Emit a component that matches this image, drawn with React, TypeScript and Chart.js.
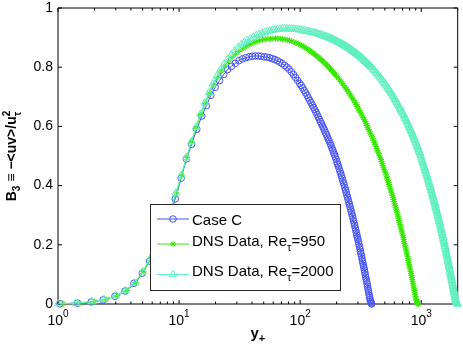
import { useEffect, useRef } from 'react';
import { Chart, registerables } from 'chart.js';

Chart.register(...registerables);

// ---------------- data: [y+, B3] ----------------
const caseC: [number, number][] = [
  [1.04, .001], [1.45, .003], [1.88, .007], [2.36, .014], [2.95, .026], [3.58, .044], [4.24, .07], [4.96, .104], [5.7, .145], [6.5, .19],
  [7.4, .24], [8.3, .295], [9.3, .355], [10.4, .425], [11.5, .49], [12.7, .54], [14.0, .59], [15.4, .635], [16.8, .67], [18.3, .705],
  [19.9, .732], [21.6, .755], [23.4, .776], [25.2, .792], [27.1, .803], [29.1, .813], [31.2, .822], [33.3, .828], [35.5, .832], [37.8, .835],
  [40.2, .837], [42.6, .838], [45.1, .838], [47.7, .837], [50.4, .835], [53.1, .834], [55.9, .832], [58.8, .829], [61.8, .826], [64.8, .822],
  [67.9, .817], [71.1, .812], [74.4, .806], [77.7, .8], [81.1, .793], [84.6, .784], [88.1, .775], [91.7, .765], [95.4, .755], [99.1, .745],
  [102, .738], [105, .730], [108, .721], [111, .713], [114, .705], [117, .696], [120, .688], [123, .680], [126, .672], [129, .664],
  [132, .656], [135, .648], [138, .640], [141, .632], [144, .624], [147, .616], [150, .609], [153, .601], [156, .594], [159, .587],
  [162, .579], [165, .572], [168, .564], [171, .557], [174, .550], [177, .542], [180, .535], [183, .527], [186, .520], [189, .512],
  [192, .505], [195, .497], [198, .489], [201, .481], [204, .473], [207, .465], [210, .457], [213, .449], [216, .441], [219, .433],
  [222, .425], [225, .417], [228, .409], [231, .401], [234, .393], [237, .385], [240, .377], [243, .369], [246, .361], [249, .353],
  [252, .345], [255, .337], [258, .329], [261, .321], [264, .313], [267, .305], [270, .297], [273, .289], [276, .281], [279, .273],
  [282, .265], [285, .257], [288, .249], [291, .241], [294, .233], [297, .225], [300, .218], [303, .210], [306, .202], [309, .194],
  [312, .186], [315, .178], [318, .170], [321, .162], [324, .154], [327, .146], [330, .138], [333, .130], [336, .123], [339, .115],
  [342, .107], [345, .099], [348, .091], [351, .084], [354, .076], [357, .068], [360, .060], [363, .052], [366, .045], [369, .037],
  [372, .029], [375, .022], [378, .015], [381, .010], [384, .005], [387, .002], [390, 0],
];

const dns950: [number, number][] = [
  [1.1, .001], [1.5, .003], [2.0, .008], [2.5, .016], [3.1, .029], [3.7, .046], [4.4, .072], [5.1, .11], [5.9, .155], [6.7, .205],
  [7.6, .26], [8.5, .315], [9.5, .375], [10.5, .435], [11.6, .495], [12.7, .548], [13.9, .598], [15.1, .64], [16.4, .678], [17.8, .712],
  [19.2, .74], [20.7, .765], [22.3, .787], [23.9, .805], [25.6, .82], [27.4, .833], [29.2, .844], [31.1, .853], [33.1, .861], [35.1, .868],
  [37.2, .874], [39.4, .879], [41.7, .884], [44.0, .887], [46.4, .89], [48.9, .893], [51.5, .894], [54.1, .895], [56.8, .896], [59.6, .897],
  [62.5, .897], [65.5, .897], [68.5, .896], [71.7, .895], [74.9, .894], [78.2, .892], [81.6, .89], [85.1, .888], [88.7, .885], [92.4, .882],
  [96.2, .879], [100, .876], [103, .873], [106, .870], [109, .867], [112, .864], [115, .861], [118, .858], [121, .855], [124, .852],
  [127, .849], [130, .846], [133, .842], [136, .839], [139, .836], [142, .833], [145, .829], [148, .826], [151, .823], [154, .820],
  [157, .816], [160, .813], [163, .810], [166, .807], [169, .803], [172, .800], [175, .797], [178, .794], [181, .791], [184, .787],
  [187, .784], [190, .780], [193, .777], [196, .774], [200, .770],
  [206, .764], [212, .757], [218, .751], [224, .744], [230, .738], [236, .731], [242, .725], [248, .719], [254, .712], [260, .706],
  [266, .699], [272, .693], [278, .687], [284, .680], [290, .674], [296, .667], [302, .661], [308, .654], [314, .648], [320, .642],
  [326, .635], [332, .629], [338, .622], [344, .616], [350, .610], [356, .603], [362, .597], [368, .590], [374, .584], [380, .577],
  [386, .571], [392, .565], [398, .558], [404, .552], [410, .545], [416, .539], [422, .532], [428, .526], [434, .520], [440, .513],
  [446, .507], [452, .500], [458, .494], [464, .488], [470, .481], [476, .475], [482, .468], [488, .462], [494, .455], [500, .449],
  [506, .443], [512, .436], [518, .430], [524, .423], [530, .417], [536, .410], [542, .404], [548, .398], [554, .391], [560, .385],
  [566, .378], [572, .372], [578, .366], [584, .359], [590, .353], [596, .346], [602, .340], [608, .333], [614, .327], [620, .321],
  [626, .314], [632, .308], [638, .301], [644, .295], [650, .288], [656, .282], [662, .276], [668, .269], [674, .263], [680, .256],
  [686, .250], [692, .244], [698, .237], [704, .231], [710, .224], [716, .218], [722, .211], [728, .205], [734, .199], [740, .192],
  [746, .186], [752, .179], [758, .173], [764, .166], [770, .160], [776, .154], [782, .147], [788, .141], [794, .134], [800, .128],
  [806, .122], [812, .115], [818, .109], [824, .102], [830, .096], [836, .089], [842, .083], [848, .077], [854, .070], [860, .064],
  [866, .057], [872, .051], [878, .045], [884, .038], [890, .032], [896, .026], [902, .020], [908, .015], [914, .011], [920, .007],
  [926, .004], [932, .002], [940, .001], [950, 0],
];

const dns2000: [number, number][] = [
  [1.0, .001], [1.4, .003], [1.9, .008], [2.4, .015], [3.0, .028], [3.6, .045], [4.3, .071], [5.0, .11], [5.8, .155], [6.6, .203],
  [7.5, .26], [8.4, .315], [9.4, .375], [10.4, .435], [11.5, .495], [12.6, .548], [13.8, .598], [15.0, .642], [16.3, .68], [17.6, .714],
  [19.0, .744], [20.5, .77], [22.0, .792], [23.6, .811], [25.3, .828], [27.0, .842], [28.8, .855], [30.7, .866], [32.6, .876], [34.6, .884],
  [36.7, .891], [38.9, .897], [41.1, .902], [43.4, .907], [45.8, .911], [48.3, .915], [50.9, .918], [53.5, .921], [56.2, .923], [59.0, .925],
  [61.9, .927], [64.9, .928], [68.0, .929], [71.2, .93], [74.5, .93], [77.9, .93], [81.4, .93], [85.0, .929], [88.7, .929], [92.5, .928],
  [96.4, .927], [100, .926], [104, .925], [108, .923], [112, .922], [116, .921], [120, .920], [124, .918], [128, .917], [132, .916],
  [136, .914], [140, .913], [144, .911], [148, .910], [152, .908], [156, .906], [160, .905], [164, .903], [168, .902], [172, .900],
  [176, .898], [180, .896], [184, .895], [188, .893], [192, .891], [196, .890], [200, .888], [204, .886], [208, .884], [212, .882],
  [216, .881], [220, .879], [224, .877], [228, .875], [232, .873], [236, .872], [240, .870], [244, .868], [248, .866], [252, .864],
  [256, .862], [260, .861], [264, .859], [268, .857], [272, .855], [276, .853], [280, .851], [284, .849], [288, .848], [292, .846],
  [296, .844], [300, .842], [305, .840], [310, .837], [315, .835], [320, .832], [325, .830], [330, .828], [335, .825], [340, .823],
  [345, .820], [350, .818], [355, .816], [360, .813], [365, .811], [370, .808], [375, .806], [380, .804], [385, .801], [390, .799],
  [400, .794], [410, .789], [420, .784], [430, .779], [440, .774], [450, .770], [460, .765], [470, .760], [480, .755], [490, .750],
  [500, .745], [510, .740], [520, .735], [530, .730], [540, .725], [550, .721], [560, .716], [570, .711], [580, .706], [590, .701],
  [600, .696], [610, .691], [620, .686], [630, .681], [640, .676], [650, .671], [660, .666], [670, .661], [680, .656], [690, .651],
  [700, .646], [710, .642], [720, .637], [730, .632], [740, .627], [750, .622], [760, .617], [770, .612], [780, .607], [790, .602],
  [800, .597], [810, .592], [820, .587], [830, .582], [840, .577], [850, .572], [860, .567], [870, .562], [880, .557], [890, .552],
  [900, .547], [910, .542], [920, .537], [930, .532], [940, .527], [950, .522], [960, .517], [970, .512], [980, .507], [990, .502],
  [1000, .494], [1010, .488], [1020, .483], [1030, .478], [1040, .473], [1050, .467], [1060, .462], [1070, .457], [1080, .452], [1090, .447],
  [1100, .441], [1110, .436], [1120, .431], [1130, .426], [1140, .420], [1150, .415], [1160, .410], [1170, .405], [1180, .399], [1190, .394],
  [1200, .389], [1210, .384], [1220, .379], [1230, .373], [1240, .368], [1250, .363], [1260, .358], [1270, .352], [1280, .347], [1290, .342],
  [1300, .337], [1310, .331], [1320, .326], [1330, .321], [1340, .316], [1350, .311], [1360, .305], [1370, .300], [1380, .295], [1390, .290],
  [1400, .284], [1410, .279], [1420, .274], [1430, .269], [1440, .263], [1450, .258], [1460, .253], [1470, .248], [1480, .242], [1490, .237],
  [1500, .232], [1510, .227], [1520, .222], [1530, .216], [1540, .211], [1550, .206], [1560, .201], [1570, .195], [1580, .190], [1590, .185],
  [1600, .180], [1610, .174], [1620, .169], [1630, .164], [1640, .159], [1650, .153], [1660, .148], [1670, .143], [1680, .138], [1690, .132],
  [1700, .127], [1710, .122], [1720, .117], [1730, .112], [1740, .106], [1750, .101], [1760, .096], [1770, .091], [1780, .085], [1790, .080],
  [1800, .075], [1810, .070], [1820, .064], [1830, .059], [1840, .054], [1850, .049], [1860, .044], [1870, .039], [1880, .034], [1890, .029],
  [1900, .024], [1910, .020], [1920, .016], [1930, .012], [1940, .009], [1950, .006], [1960, .004], [1970, .002], [1980, .001], [2000, 0],
];

const seriesLabels = ['Case C', 'DNS Data, Re', 'DNS Data, Re'];
const seriesSubs = ['', 'τ', 'τ'];
const seriesTails = ['', '=950', '=2000'];

const yTicks = [0, 0.2, 0.4, 0.6, 0.8, 1];
const yTickLabels = ['0', '0.2', '0.4', '0.6', '0.8', '1'];
const xMajorTicks = [1, 10, 100, 1000];
const xTickExponents = ['0', '1', '2', '3'];
const xMinorMantissas = [2, 3, 4, 5, 6, 7, 8, 9];

// ---------------- styles ----------------
const BLUE = 'rgb(72, 84, 245)';
const GREEN = 'rgb(55, 232, 0)';
const CYAN = 'rgb(95, 240, 190)';
const FONT = '"Liberation Sans", Arial, Helvetica, sans-serif';

type Run = { t: string; f: string; dy: number; stack?: boolean };

function runsWidth(ctx: CanvasRenderingContext2D, runs: Run[]) {
  let w = 0;
  let pending = 0;
  for (const r of runs) {
    ctx.font = r.f;
    const rw = ctx.measureText(r.t).width;
    if (r.stack) {
      pending = Math.max(pending, rw);
    } else {
      w += Math.max(rw, pending);
      pending = 0;
    }
  }
  return w + pending;
}

function drawRuns(ctx: CanvasRenderingContext2D, x: number, y: number, runs: Run[]) {
  let cx = x;
  let pending = 0;
  ctx.textAlign = 'left';
  ctx.textBaseline = 'alphabetic';
  for (const r of runs) {
    ctx.font = r.f;
    const rw = ctx.measureText(r.t).width;
    ctx.fillText(r.t, cx, y + r.dy);
    if (r.stack) {
      pending = Math.max(pending, rw);
    } else {
      cx += Math.max(rw, pending);
      pending = 0;
    }
  }
}

function drawMarker(ctx: CanvasRenderingContext2D, style: string, x: number, y: number, r: number) {
  ctx.beginPath();
  if (style === 'circle') {
    ctx.arc(x, y, r, 0, Math.PI * 2);
  } else if (style === 'star') {
    const d = r * Math.SQRT1_2;
    ctx.moveTo(x - r, y); ctx.lineTo(x + r, y);
    ctx.moveTo(x, y - r); ctx.lineTo(x, y + r);
    ctx.moveTo(x - d, y - d); ctx.lineTo(x + d, y + d);
    ctx.moveTo(x - d, y + d); ctx.lineTo(x + d, y - d);
  } else {
    ctx.moveTo(x, y - r);
    ctx.lineTo(x + r * 0.866, y + r * 0.5);
    ctx.lineTo(x - r * 0.866, y + r * 0.5);
    ctx.closePath();
  }
  ctx.stroke();
}

const legendColors = [BLUE, GREEN, CYAN];
const legendStyles = ['circle', 'star', 'triangle'];
const legendRadii = [3.3, 3, 4.3];

const framePlugin = {
  id: 'matlabFrame',
  beforeDatasetsDraw(chart: any) {
    const { ctx, chartArea: a, scales } = chart;
    const xs = scales.x;
    const ys = scales.y;
    ctx.save();
    ctx.strokeStyle = '#000';
    ctx.lineWidth = 1;
    ctx.beginPath();
    ctx.rect(a.left, a.top, a.right - a.left, a.bottom - a.top);
    ctx.stroke();
    ctx.beginPath();
    const minors: number[] = [];
    for (const dec of xMajorTicks) for (const m of xMinorMantissas) if (dec * m <= 2000) minors.push(dec * m);
    for (const v of xMajorTicks) {
      const px = xs.getPixelForValue(v);
      ctx.moveTo(px, a.bottom); ctx.lineTo(px, a.bottom - 4);
      ctx.moveTo(px, a.top); ctx.lineTo(px, a.top + 4);
    }
    for (const v of minors) {
      const px = xs.getPixelForValue(v);
      ctx.moveTo(px, a.bottom); ctx.lineTo(px, a.bottom - 2.5);
      ctx.moveTo(px, a.top); ctx.lineTo(px, a.top + 2.5);
    }
    for (const v of yTicks) {
      const py = ys.getPixelForValue(v);
      ctx.moveTo(a.left, py); ctx.lineTo(a.left + 4, py);
      ctx.moveTo(a.right, py); ctx.lineTo(a.right - 4, py);
    }
    ctx.stroke();
    ctx.restore();
  },
  afterDraw(chart: any) {
    const { ctx, chartArea: a, scales } = chart;
    const xs = scales.x;
    const ys = scales.y;
    ctx.save();
    ctx.fillStyle = '#000';
    // y tick labels
    ctx.font = `14px ${FONT}`;
    ctx.textAlign = 'right';
    ctx.textBaseline = 'middle';
    yTicks.forEach((v, i) => {
      ctx.fillText(yTickLabels[i], a.left - 5, ys.getPixelForValue(v));
    });
    // x tick labels (10^n)
    xMajorTicks.forEach((v, i) => {
      const runs: Run[] = [
        { t: '10', f: `14px ${FONT}`, dy: 0 },
        { t: xTickExponents[i], f: `10px ${FONT}`, dy: -8.5 },
      ];
      const w = runsWidth(ctx, runs);
      drawRuns(ctx, xs.getPixelForValue(v) - w / 2, a.bottom + 21, runs);
    });
    // x title
    const xt: Run[] = [
      { t: 'y', f: `bold 15px ${FONT}`, dy: 0 },
      { t: '+', f: `bold 11px ${FONT}`, dy: 4 },
    ];
    const xw = runsWidth(ctx, xt);
    drawRuns(ctx, (a.left + a.right) / 2 - xw / 2, a.bottom + 34, xt);
    // y title
    const yt: Run[] = [
      { t: 'B', f: `bold 14px ${FONT}`, dy: 0 },
      { t: '3', f: `bold 10px ${FONT}`, dy: 4 },
      { t: ' \u2261 \u2212<uv>/u', f: `bold 14px ${FONT}`, dy: 0 },
      { t: '2', f: `bold 10px ${FONT}`, dy: -6, stack: true },
      { t: '\u03c4', f: `bold 10px ${FONT}`, dy: 5 },
    ];
    const yw = runsWidth(ctx, yt);
    ctx.save();
    ctx.translate(16, (a.top + a.bottom) / 2);
    ctx.rotate(-Math.PI / 2);
    drawRuns(ctx, -yw / 2, 0, yt);
    ctx.restore();

    // legend
    const bx = 150.5, by = 204.5, bw = 190, bh = 86;
    ctx.fillStyle = '#fff';
    ctx.fillRect(bx, by, bw, bh);
    ctx.strokeStyle = '#262626';
    ctx.lineWidth = 1;
    ctx.strokeRect(bx, by, bw, bh);
    const lineYs = [219, 244, 274.5];
    const baseYs = [224.5, 246, 276];
    for (let i = 0; i < 3; i++) {
      ctx.strokeStyle = legendColors[i];
      ctx.lineWidth = 1;
      ctx.beginPath();
      ctx.moveTo(157, lineYs[i]);
      ctx.lineTo(189, lineYs[i]);
      ctx.stroke();
      drawMarker(ctx, legendStyles[i], 173, lineYs[i], legendRadii[i]);
      ctx.fillStyle = '#000';
      const runs: Run[] = [{ t: seriesLabels[i], f: `15px ${FONT}`, dy: 0 }];
      if (seriesSubs[i]) runs.push({ t: seriesSubs[i], f: `11px ${FONT}`, dy: 5 });
      if (seriesTails[i]) runs.push({ t: seriesTails[i], f: `15px ${FONT}`, dy: 0 });
      drawRuns(ctx, 192, baseYs[i], runs);
    }
    ctx.restore();
  },
};

function toPoints(pairs: [number, number][]) {
  return pairs.map(([x, y]) => ({ x, y }));
}

export default function App() {
  const ref = useRef<HTMLCanvasElement>(null);
  useEffect(() => {
    if (!ref.current) return;
    const mk = (label: string, pairs: [number, number][], color: string, style: string, r: number, order: number) => ({
      label,
      data: toPoints(pairs),
      showLine: true,
      borderColor: color,
      borderWidth: 1,
      backgroundColor: 'rgba(0,0,0,0)',
      pointStyle: style,
      pointRadius: r,
      pointBorderWidth: 1,
      pointBorderColor: color,
      pointBackgroundColor: 'rgba(0,0,0,0)',
      tension: 0,
      fill: false,
      clip: false as any,
      order,
    });
    const chart = new Chart(ref.current, {
      type: 'scatter',
      data: {
        datasets: [
          mk('Case C', caseC, BLUE, 'circle', 3.3, 3),
          mk('DNS Data, Re_τ=950', dns950, GREEN, 'star', 3, 2),
          mk('DNS Data, Re_τ=2000', dns2000, CYAN, 'triangle', 4.3, 1),
        ] as any,
      },
      options: {
        responsive: false,
        animation: false,
        devicePixelRatio: 1,
        events: [],
        layout: { padding: { left: 58, top: 8, right: 0, bottom: 45 } },
        scales: {
          x: { type: 'logarithmic', min: 1, max: 2000, display: false },
          y: { type: 'linear', min: 0, max: 1, display: false },
        },
        plugins: { legend: { display: false }, tooltip: { enabled: false } },
      },
      plugins: [framePlugin],
    });
    return () => chart.destroy();
  }, []);
  return (
    <div style={{ position: 'absolute', left: 0, top: 0, width: 463, height: 349, background: '#fff' }}>
      <canvas ref={ref} width={463} height={349} style={{ display: 'block', width: 463, height: 349 }} />
    </div>
  );
}
